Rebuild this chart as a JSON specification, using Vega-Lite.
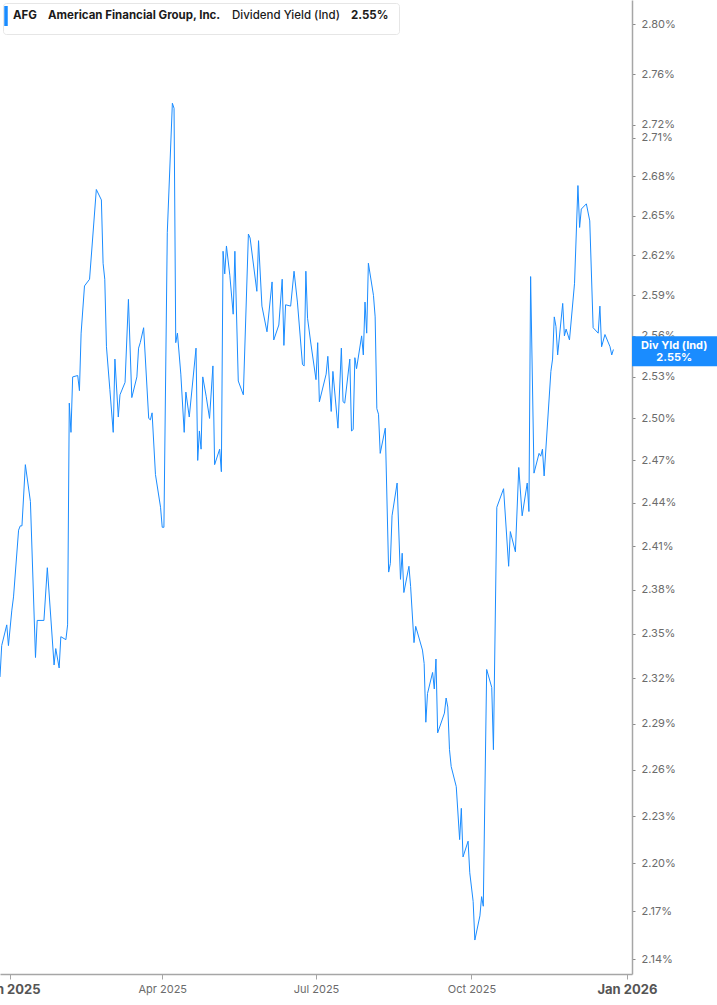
{
  "$schema": "https://vega.github.io/schema/vega-lite/v6.json",
  "width": 632,
  "height": 974,
  "autosize": {"type": "none"},
  "padding": {"left": 0, "top": 0, "right": 85, "bottom": 31},
  "background": "white",
  "layer": [
    {
      "data": {
        "values": [
          {"date": "2024-12-26", "v": 2.321}, {"date": "2024-12-27", "v": 2.342}, {"date": "2024-12-30", "v": 2.356}, {"date": "2024-12-31", "v": 2.342},
          {"date": "2025-01-02", "v": 2.366}, {"date": "2025-01-03", "v": 2.375}, {"date": "2025-01-06", "v": 2.421}, {"date": "2025-01-07", "v": 2.424},
          {"date": "2025-01-08", "v": 2.424}, {"date": "2025-01-10", "v": 2.467}, {"date": "2025-01-13", "v": 2.441}, {"date": "2025-01-16", "v": 2.334},
          {"date": "2025-01-17", "v": 2.359}, {"date": "2025-01-21", "v": 2.359}, {"date": "2025-01-23", "v": 2.395}, {"date": "2025-01-25", "v": 2.362},
          {"date": "2025-01-27", "v": 2.329}, {"date": "2025-01-28", "v": 2.340}, {"date": "2025-01-30", "v": 2.327}, {"date": "2025-01-31", "v": 2.348},
          {"date": "2025-02-03", "v": 2.346}, {"date": "2025-02-04", "v": 2.356}, {"date": "2025-02-05", "v": 2.511}, {"date": "2025-02-06", "v": 2.490},
          {"date": "2025-02-07", "v": 2.530}, {"date": "2025-02-10", "v": 2.531}, {"date": "2025-02-11", "v": 2.520}, {"date": "2025-02-12", "v": 2.562},
          {"date": "2025-02-14", "v": 2.597}, {"date": "2025-02-17", "v": 2.602}, {"date": "2025-02-21", "v": 2.670}, {"date": "2025-02-24", "v": 2.662},
          {"date": "2025-02-25", "v": 2.614}, {"date": "2025-02-26", "v": 2.602}, {"date": "2025-02-27", "v": 2.552}, {"date": "2025-03-01", "v": 2.521},
          {"date": "2025-03-03", "v": 2.490}, {"date": "2025-03-04", "v": 2.543}, {"date": "2025-03-06", "v": 2.501}, {"date": "2025-03-07", "v": 2.517},
          {"date": "2025-03-10", "v": 2.526}, {"date": "2025-03-12", "v": 2.587}, {"date": "2025-03-14", "v": 2.515}, {"date": "2025-03-17", "v": 2.530},
          {"date": "2025-03-18", "v": 2.551}, {"date": "2025-03-19", "v": 2.555}, {"date": "2025-03-21", "v": 2.566}, {"date": "2025-03-24", "v": 2.500},
          {"date": "2025-03-25", "v": 2.499}, {"date": "2025-03-26", "v": 2.504}, {"date": "2025-03-28", "v": 2.460}, {"date": "2025-03-31", "v": 2.437},
          {"date": "2025-04-01", "v": 2.423}, {"date": "2025-04-02", "v": 2.423}, {"date": "2025-04-04", "v": 2.637}, {"date": "2025-04-07", "v": 2.737},
          {"date": "2025-04-08", "v": 2.733}, {"date": "2025-04-09", "v": 2.555}, {"date": "2025-04-10", "v": 2.562}, {"date": "2025-04-12", "v": 2.532},
          {"date": "2025-04-14", "v": 2.490}, {"date": "2025-04-15", "v": 2.519}, {"date": "2025-04-17", "v": 2.501}, {"date": "2025-04-21", "v": 2.551},
          {"date": "2025-04-22", "v": 2.470}, {"date": "2025-04-23", "v": 2.491}, {"date": "2025-04-24", "v": 2.478}, {"date": "2025-04-25", "v": 2.530},
          {"date": "2025-04-27", "v": 2.516}, {"date": "2025-04-29", "v": 2.500}, {"date": "2025-05-01", "v": 2.538}, {"date": "2025-05-02", "v": 2.467},
          {"date": "2025-05-05", "v": 2.478}, {"date": "2025-05-06", "v": 2.462}, {"date": "2025-05-07", "v": 2.623}, {"date": "2025-05-08", "v": 2.606},
          {"date": "2025-05-09", "v": 2.627}, {"date": "2025-05-11", "v": 2.605}, {"date": "2025-05-13", "v": 2.576}, {"date": "2025-05-14", "v": 2.623},
          {"date": "2025-05-16", "v": 2.527}, {"date": "2025-05-19", "v": 2.517}, {"date": "2025-05-22", "v": 2.636}, {"date": "2025-05-23", "v": 2.633},
          {"date": "2025-05-27", "v": 2.593}, {"date": "2025-05-28", "v": 2.631}, {"date": "2025-05-30", "v": 2.582}, {"date": "2025-06-02", "v": 2.563},
          {"date": "2025-06-05", "v": 2.600}, {"date": "2025-06-06", "v": 2.557}, {"date": "2025-06-09", "v": 2.568}, {"date": "2025-06-11", "v": 2.602},
          {"date": "2025-06-12", "v": 2.553}, {"date": "2025-06-13", "v": 2.583}, {"date": "2025-06-16", "v": 2.582}, {"date": "2025-06-18", "v": 2.608},
          {"date": "2025-06-20", "v": 2.585}, {"date": "2025-06-23", "v": 2.539}, {"date": "2025-06-24", "v": 2.538}, {"date": "2025-06-25", "v": 2.608},
          {"date": "2025-06-26", "v": 2.573}, {"date": "2025-06-28", "v": 2.554}, {"date": "2025-07-01", "v": 2.528}, {"date": "2025-07-02", "v": 2.555},
          {"date": "2025-07-03", "v": 2.512}, {"date": "2025-07-07", "v": 2.532}, {"date": "2025-07-08", "v": 2.545}, {"date": "2025-07-10", "v": 2.505},
          {"date": "2025-07-11", "v": 2.534}, {"date": "2025-07-14", "v": 2.493}, {"date": "2025-07-16", "v": 2.551}, {"date": "2025-07-17", "v": 2.512},
          {"date": "2025-07-18", "v": 2.511}, {"date": "2025-07-21", "v": 2.543}, {"date": "2025-07-22", "v": 2.491}, {"date": "2025-07-23", "v": 2.492},
          {"date": "2025-07-24", "v": 2.544}, {"date": "2025-07-25", "v": 2.536}, {"date": "2025-07-28", "v": 2.560}, {"date": "2025-07-29", "v": 2.546},
          {"date": "2025-07-30", "v": 2.585}, {"date": "2025-07-31", "v": 2.562}, {"date": "2025-08-01", "v": 2.614}, {"date": "2025-08-04", "v": 2.590},
          {"date": "2025-08-05", "v": 2.574}, {"date": "2025-08-06", "v": 2.507}, {"date": "2025-08-07", "v": 2.503}, {"date": "2025-08-08", "v": 2.475},
          {"date": "2025-08-11", "v": 2.493}, {"date": "2025-08-13", "v": 2.392}, {"date": "2025-08-14", "v": 2.398}, {"date": "2025-08-15", "v": 2.431},
          {"date": "2025-08-18", "v": 2.454}, {"date": "2025-08-20", "v": 2.387}, {"date": "2025-08-21", "v": 2.405}, {"date": "2025-08-22", "v": 2.378},
          {"date": "2025-08-25", "v": 2.396}, {"date": "2025-08-26", "v": 2.382}, {"date": "2025-08-28", "v": 2.344}, {"date": "2025-08-29", "v": 2.355},
          {"date": "2025-09-02", "v": 2.339}, {"date": "2025-09-03", "v": 2.330}, {"date": "2025-09-04", "v": 2.291}, {"date": "2025-09-05", "v": 2.310},
          {"date": "2025-09-08", "v": 2.324}, {"date": "2025-09-09", "v": 2.313}, {"date": "2025-09-10", "v": 2.333}, {"date": "2025-09-11", "v": 2.284},
          {"date": "2025-09-15", "v": 2.297}, {"date": "2025-09-16", "v": 2.307}, {"date": "2025-09-17", "v": 2.301}, {"date": "2025-09-18", "v": 2.273},
          {"date": "2025-09-19", "v": 2.262}, {"date": "2025-09-22", "v": 2.249}, {"date": "2025-09-24", "v": 2.215}, {"date": "2025-09-25", "v": 2.235},
          {"date": "2025-09-26", "v": 2.204}, {"date": "2025-09-29", "v": 2.214}, {"date": "2025-09-30", "v": 2.194}, {"date": "2025-10-02", "v": 2.176},
          {"date": "2025-10-03", "v": 2.152}, {"date": "2025-10-06", "v": 2.167}, {"date": "2025-10-07", "v": 2.179}, {"date": "2025-10-08", "v": 2.173},
          {"date": "2025-10-10", "v": 2.326}, {"date": "2025-10-13", "v": 2.314}, {"date": "2025-10-14", "v": 2.273}, {"date": "2025-10-16", "v": 2.437},
          {"date": "2025-10-20", "v": 2.450}, {"date": "2025-10-23", "v": 2.396}, {"date": "2025-10-24", "v": 2.420}, {"date": "2025-10-27", "v": 2.406},
          {"date": "2025-10-29", "v": 2.465}, {"date": "2025-10-31", "v": 2.431}, {"date": "2025-11-03", "v": 2.454}, {"date": "2025-11-04", "v": 2.434},
          {"date": "2025-11-05", "v": 2.604}, {"date": "2025-11-07", "v": 2.461}, {"date": "2025-11-10", "v": 2.475}, {"date": "2025-11-11", "v": 2.473},
          {"date": "2025-11-12", "v": 2.478}, {"date": "2025-11-13", "v": 2.459}, {"date": "2025-11-17", "v": 2.534}, {"date": "2025-11-18", "v": 2.543},
          {"date": "2025-11-19", "v": 2.574}, {"date": "2025-11-20", "v": 2.567}, {"date": "2025-11-21", "v": 2.546}, {"date": "2025-11-24", "v": 2.584},
          {"date": "2025-11-25", "v": 2.560}, {"date": "2025-11-26", "v": 2.565}, {"date": "2025-11-28", "v": 2.557}, {"date": "2025-12-01", "v": 2.599},
          {"date": "2025-12-03", "v": 2.673}, {"date": "2025-12-04", "v": 2.641}, {"date": "2025-12-05", "v": 2.655}, {"date": "2025-12-08", "v": 2.659},
          {"date": "2025-12-10", "v": 2.646}, {"date": "2025-12-12", "v": 2.566}, {"date": "2025-12-15", "v": 2.562}, {"date": "2025-12-16", "v": 2.582},
          {"date": "2025-12-17", "v": 2.552}, {"date": "2025-12-19", "v": 2.561}, {"date": "2025-12-22", "v": 2.552}, {"date": "2025-12-23", "v": 2.546},
          {"date": "2025-12-24", "v": 2.550}
        ]
      },
      "mark": {"type": "line", "strokeWidth": 1},
      "encoding": {
        "x": {
          "field": "date",
          "type": "temporal",
          "scale": {
            "type": "utc",
            "domain": [
              {"year": 2024, "month": 12, "date": 26, "utc": true},
              {"year": 2026, "month": 1, "date": 4, "utc": true}
            ]
          },
          "axis": {
            "title": null,
            "grid": false,
            "values": [
              {"year": 2025, "month": 1, "date": 1, "utc": true},
              {"year": 2025, "month": 4, "date": 1, "utc": true},
              {"year": 2025, "month": 7, "date": 1, "utc": true},
              {"year": 2025, "month": 10, "date": 1, "utc": true},
              {"year": 2026, "month": 1, "date": 1, "utc": true}
            ],
            "format": "%b %Y",
            "domainColor": "#a6a6a6",
            "domainWidth": 1.5,
            "tickColor": "#a6a6a6",
            "tickSize": 5,
            "labelPadding": 4,
            "labelFont": "Inter",
            "labelBound": false,
            "labelFlush": false,
            "labelOverlap": false,
            "labelFontSize": {"condition": {"test": "utcmonth(datum.value) == 0", "value": 13}, "value": 11},
            "labelFontWeight": {"condition": {"test": "utcmonth(datum.value) == 0", "value": "bold"}, "value": "normal"},
            "labelColor": {"condition": {"test": "utcmonth(datum.value) == 0", "value": "#555555"}, "value": "#6b6b6b"}
          }
        },
        "y": {
          "field": "v",
          "type": "quantitative",
          "scale": {"type": "log", "domain": [2.1311, 2.8194], "nice": false, "zero": false},
          "axis": {
            "orient": "right",
            "title": null,
            "grid": false,
            "values": [2.14, 2.17, 2.2, 2.23, 2.26, 2.29, 2.32, 2.35, 2.38, 2.41, 2.44, 2.47, 2.5, 2.53, 2.56, 2.59, 2.62, 2.65, 2.68, 2.71, 2.72, 2.76, 2.8],
            "labelExpr": "format(datum.value, '.2f') + '%'",
            "domainColor": "#a6a6a6",
            "domainWidth": 1.5,
            "tickColor": "#8a8a8a",
            "tickSize": 3,
            "labelPadding": 6,
            "labelFont": "Inter",
            "labelFontSize": 11,
            "labelColor": "#6b6b6b",
            "labelOverlap": false,
            "labelBound": false
          }
        },
        "color": {
          "datum": "AFG",
          "scale": {
            "domain": ["AFG", "American Financial Group, Inc.", "Dividend Yield (Ind)", "2.55%\u2800"],
            "range": ["#1a8cff", "#ffffff", "#ffffff", "#ffffff"]
          },
          "legend": {
            "orient": "top-left",
            "offset": 3,
            "direction": "horizontal",
            "title": null,
            "symbolType": "M-1,-1V1",
            "symbolSize": 400,
            "symbolStrokeWidth": 3.5,
            "labelOffset": -15,
            "columnPadding": -3,
            "padding": 1,
            "fillColor": "#ffffff",
            "strokeColor": "#e6e6e6",
            "cornerRadius": 3,
            "labelFont": "Inter",
            "labelFontSize": 11.5,
            "labelColor": "#1a1a1a",
            "labelLimit": 0,
            "labelFontWeight": {"expr": "datum.label == 'Dividend Yield (Ind)' ? 500 : 700"}
          }
        }
      }
    },
    {
      "data": {"values": [{"label": "Div Yld (Ind)", "value": 2.55}]},
      "mark": {"type": "rect", "color": "#1a8cff"},
      "encoding": {
        "x": {"datum": {"year": 2026, "month": 1, "date": 4, "utc": true}, "type": "temporal"},
        "x2": {"datum": {"year": 2026, "month": 2, "date": 24, "utc": true}},
        "y": {"datum": 2.5597, "type": "quantitative"},
        "y2": {"datum": 2.5378}
      }
    },
    {
      "data": {"values": [{"label": "Div Yld (Ind)", "value": 2.55}]},
      "mark": {"type": "text", "color": "#ffffff", "font": "Inter", "fontSize": 11, "fontWeight": "bold", "align": "center", "baseline": "middle", "lineHeight": 12},
      "encoding": {
        "x": {"datum": {"year": 2026, "month": 1, "date": 29, "utc": true}, "type": "temporal"},
        "y": {"datum": 2.5525, "type": "quantitative"},
        "text": {"value": ["Div Yld (Ind)", "2.55%"]}
      }
    }
  ],
  "config": {"view": {"stroke": null}}
}
